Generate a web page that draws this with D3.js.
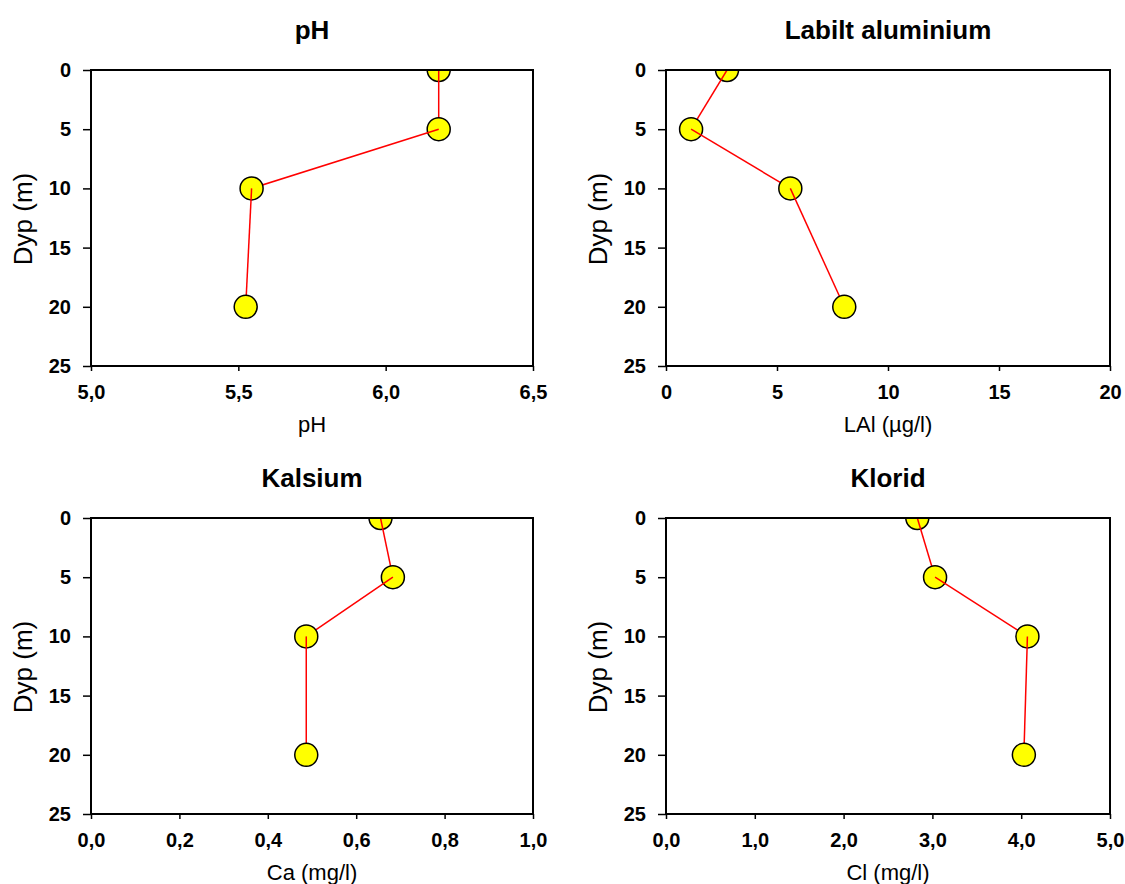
<!DOCTYPE html>
<html>
<head>
<meta charset="utf-8">
<script src="https://cdn.jsdelivr.net/npm/d3@7"></script>
<style>
  body { margin: 0; background: #fff; }
  svg { font-family: "Liberation Sans", Arial, sans-serif; }
</style>
</head>
<body>
<div id="chart"></div>
<script>
// Dybder (m)
const depths = [0, 5, 10, 20];

// Verdier per parameter
const phValues = [6.18, 6.18, 5.545, 5.525];
const laiValues = [2.75, 1.13, 5.6, 8.03];
const caValues = [0.655, 0.683, 0.487, 0.487];
const clValues = [2.83, 3.03, 4.07, 4.03];

const titles = ["pH", "Labilt aluminium", "Kalsium", "Klorid"];
const xLabels = ["pH", "LAl (µg/l)", "Ca (mg/l)", "Cl (mg/l)"];
const xDomains = [[5, 6.5], [0, 20], [0, 1], [0, 5]];
const xTicks = [[5, 5.5, 6, 6.5], [0, 5, 10, 15, 20], [0, 0.2, 0.4, 0.6, 0.8, 1.0], [0, 1, 2, 3, 4, 5]];
const xFormats = [",.1f", "d", ",.1f", ",.1f"];
const yTicks = [0, 5, 10, 15, 20, 25];

const series = [phValues, laiValues, caValues, clValues];

const width = 1125;
const height = 884;

// Norsk desimalkomma
const locale = d3.formatLocale({ decimal: ",", thousands: " ", grouping: [3], currency: ["", " kr"] });

const panels = [
  { x: 91, y: 70, w: 442, h: 296 },
  { x: 666, y: 70, w: 444, h: 296 },
  { x: 91, y: 518, w: 442, h: 296 },
  { x: 666, y: 518, w: 444, h: 296 }
];

const svg = d3.select("#chart")
  .append("svg")
  .attr("width", width)
  .attr("height", height);

panels.forEach((p, i) => {
  const g = svg.append("g").attr("transform", `translate(${p.x},${p.y})`);

  const x = d3.scaleLinear().domain(xDomains[i]).range([0, p.w]);
  const y = d3.scaleLinear().domain([0, 25]).range([0, p.h]);

  // Y-akse
  const yAxis = g.append("g")
    .call(d3.axisLeft(y).tickValues(yTicks).tickSize(8).tickPadding(12).tickFormat(d3.format("d")));
  yAxis.select(".domain").remove();
  yAxis.selectAll("line").attr("stroke-width", 1.5);
  yAxis.selectAll("text")
    .attr("font-size", 20)
    .attr("font-weight", "bold")
    .attr("fill", "#000")
    .attr("font-family", "Liberation Sans, Arial, sans-serif");

  // X-akse
  const xAxis = g.append("g")
    .attr("transform", `translate(0,${p.h})`)
    .call(d3.axisBottom(x).tickValues(xTicks[i]).tickSize(5).tickPadding(14).tickFormat(locale.format(xFormats[i])));
  xAxis.select(".domain").remove();
  xAxis.selectAll("line").attr("stroke-width", 1.5);
  xAxis.selectAll("text")
    .attr("font-size", 20)
    .attr("font-weight", "bold")
    .attr("fill", "#000")
    .attr("font-family", "Liberation Sans, Arial, sans-serif");

  // Tittel
  svg.append("text")
    .attr("x", p.x + p.w / 2)
    .attr("y", p.y - 31)
    .attr("text-anchor", "middle")
    .attr("font-size", 26)
    .attr("font-weight", "bold")
    .text(titles[i]);

  // X-tittel
  svg.append("text")
    .attr("x", p.x + p.w / 2)
    .attr("y", p.y + p.h + 66)
    .attr("text-anchor", "middle")
    .attr("font-size", 22)
    .text(xLabels[i]);

  // Y-tittel
  svg.append("text")
    .attr("transform", `translate(${p.x - 59},${p.y + p.h / 2 + 1}) rotate(-90)`)
    .attr("text-anchor", "middle")
    .attr("font-size", 26)
    .text("Dyp (m)");

  // Klipp til plottområdet
  const clipId = `clip${i}`;
  g.append("clipPath").attr("id", clipId)
    .append("rect").attr("width", p.w).attr("height", p.h);

  const plot = g.append("g").attr("clip-path", `url(#${clipId})`);

  const pts = depths.map((d, k) => ({ depth: d, value: series[i][k] }));

  // Sirkel, så linjestykke videre til neste punkt
  pts.forEach((d, k) => {
    plot.append("circle")
      .attr("cx", x(d.value))
      .attr("cy", y(d.depth))
      .attr("r", 11.5)
      .attr("fill", "#ffff00")
      .attr("stroke", "#000")
      .attr("stroke-width", 1.5);
    if (k < pts.length - 1) {
      const n = pts[k + 1];
      plot.append("line")
        .attr("x1", x(d.value))
        .attr("y1", y(d.depth))
        .attr("x2", x(n.value))
        .attr("y2", y(n.depth))
        .attr("stroke", "#ff0000")
        .attr("stroke-width", 1.5);
    }
  });

  // Ramme
  g.append("rect")
    .attr("width", p.w)
    .attr("height", p.h)
    .attr("fill", "none")
    .attr("stroke", "#000")
    .attr("stroke-width", 2);
});
</script>
</body>
</html>
